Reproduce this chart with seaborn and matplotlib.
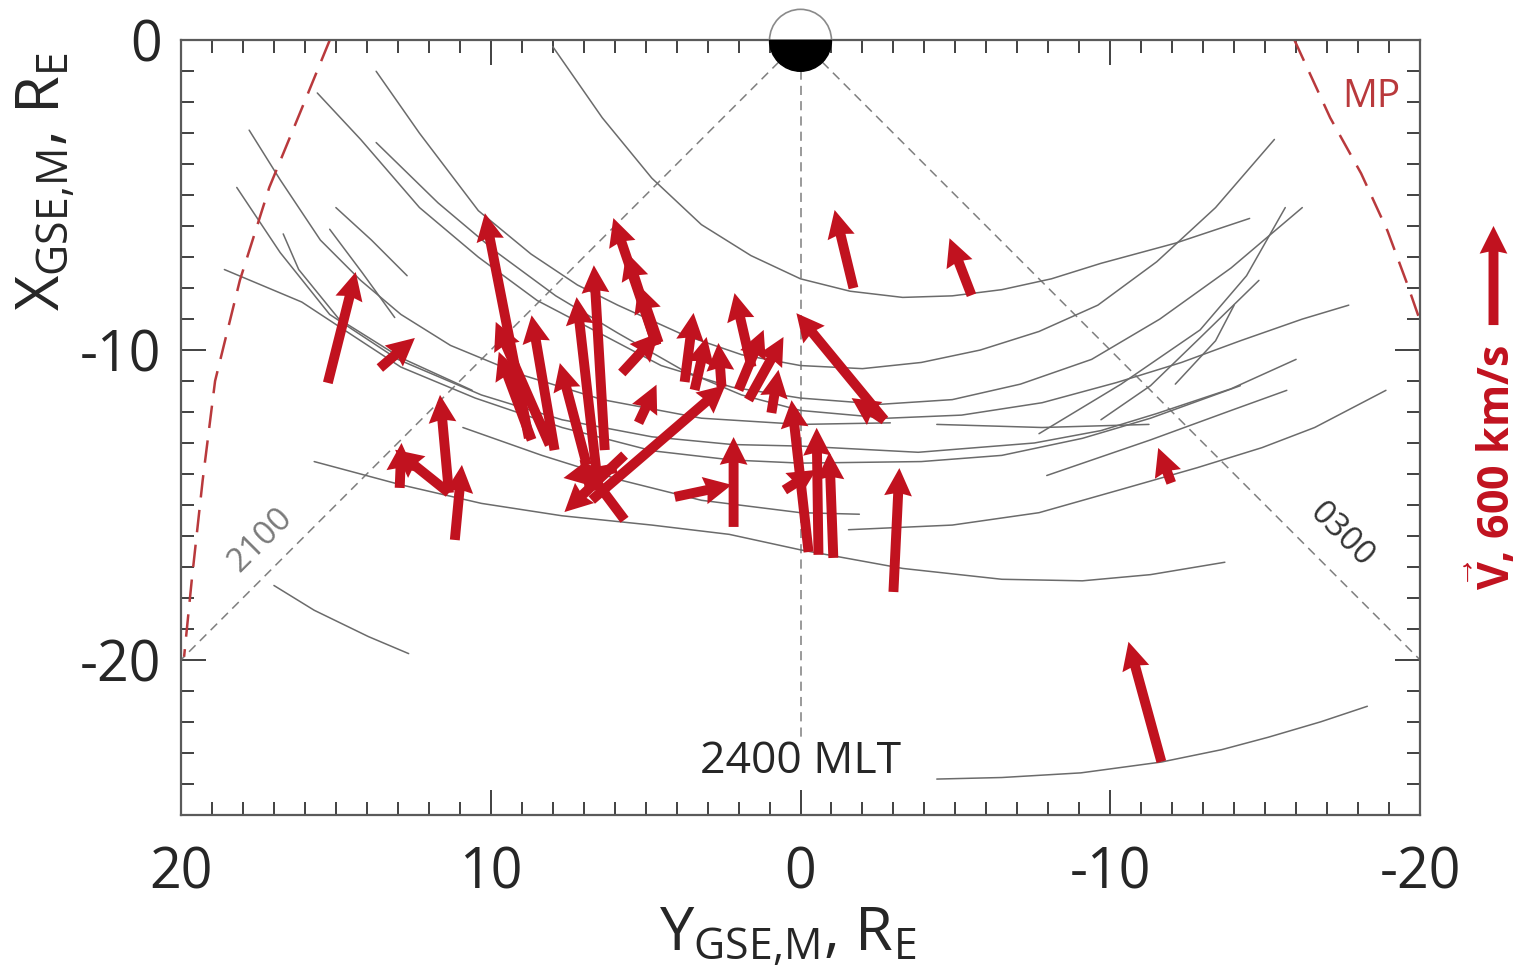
import numpy as np
import pandas as pd
import seaborn as sns
import matplotlib
matplotlib.use('Agg')
import matplotlib.pyplot as plt
from matplotlib.patches import Wedge
from matplotlib.ticker import MultipleLocator

# spacecraft orbit tracks, points as (Y_GSE, X_GSE) in R_E
trk_a = [(8.0, -0.2), (6.4, -2.5), (4.8, -4.45), (3.2, -5.95), (1.6, -6.95), (0.0, -7.7), (-1.6, -8.1),
         (-3.3, -8.3), (-4.9, -8.25), (-6.5, -8.05), (-8.1, -7.7), (-9.7, -7.2), (-12.1, -6.55), (-14.5, -5.75)]
trk_b = [(13.7, -1.0), (12.3, -3.0), (10.4, -5.5), (8.7, -6.9), (7.2, -7.9), (5.9, -8.55), (3.8, -9.5),
         (1.9, -10.15), (0.0, -10.5), (-2.0, -10.6), (-3.9, -10.4), (-5.8, -10.0), (-7.7, -9.4), (-9.6, -8.55),
         (-11.5, -7.15), (-13.4, -5.4), (-15.3, -3.2)]
trk_c = [(15.6, -1.7), (14.2, -3.2), (12.3, -5.4), (10.4, -7.0), (8.5, -8.4), (6.4, -9.5), (4.5, -10.5),
         (2.2, -11.2), (0.0, -11.55), (-2.6, -11.75), (-4.9, -11.6), (-7.1, -11.1), (-9.4, -10.3), (-11.6, -9.0),
         (-13.9, -7.35), (-16.2, -5.4)]
trk_d = [(13.7, -3.3), (11.7, -5.25), (9.8, -6.85), (7.9, -8.25), (5.9, -9.45), (3.8, -10.65), (1.9, -11.45),
         (0.0, -11.95), (-2.8, -12.2), (-5.2, -12.1), (-7.8, -11.7), (-10.2, -11.05), (-12.3, -10.4),
         (-14.2, -9.7), (-16.2, -9.0), (-17.7, -8.55)]
trk_e = [(17.8, -2.9), (16.8, -4.5), (15.5, -6.45), (14.2, -7.75), (12.9, -8.85), (11.3, -9.85), (9.0, -10.8),
         (6.4, -11.6), (3.2, -12.2), (0.0, -12.4), (-2.9, -12.35)]
trk_f = [(18.2, -4.75), (16.8, -6.85), (15.2, -8.85), (13.0, -10.3), (10.3, -11.45), (7.7, -12.25), (4.8, -12.8),
         (2.2, -13.05), (0.0, -13.1), (-3.8, -13.3), (-7.55, -13.0), (-9.7, -12.6), (-11.5, -12.05),
         (-13.9, -11.25), (-16.0, -10.3)]
trk_g = [(18.6, -7.4), (16.1, -8.45), (14.35, -9.6), (12.9, -10.55), (10.5, -11.55), (7.7, -12.5), (4.8, -13.25),
         (2.2, -13.55), (0.0, -13.65), (-3.9, -13.6), (-6.5, -13.4), (-9.1, -12.85), (-11.3, -12.2), (-14.2, -11.15)]
trk_h = [(10.9, -12.5), (8.35, -13.4), (5.8, -14.2), (3.2, -14.85), (0.0, -15.25), (-1.9, -15.3)]
trk_i = [(15.7, -13.6), (12.9, -14.35), (10.3, -14.95), (7.7, -15.35), (4.8, -15.65), (2.3, -15.95), (0.0, -16.45),
         (-3.3, -17.05), (-6.5, -17.4), (-9.1, -17.45), (-11.3, -17.25), (-13.7, -16.85)]
trk_j = [(-1.55, -15.8), (-4.9, -15.65), (-7.7, -15.25), (-10.35, -14.5), (-12.8, -13.8), (-14.9, -13.15),
         (-16.6, -12.5), (-18.9, -11.3)]
trk_k = [(-4.4, -12.4), (-7.8, -12.5), (-11.25, -12.4)]
trk_l = [(-7.7, -12.7), (-10.35, -11.1), (-12.9, -9.35), (-14.4, -7.6), (-15.65, -5.4)]
trk_m = [(-7.95, -14.05), (-11.3, -12.9), (-13.9, -11.95), (-15.7, -11.3)]
trk_n = [(-9.7, -12.25), (-11.3, -11.15), (-12.8, -9.7), (-14.8, -7.75)]
trk_o = [(-12.1, -11.1), (-13.4, -9.7), (-14.0, -8.55)]
trk_q = [(-4.4, -23.85), (-6.5, -23.8), (-9.05, -23.65), (-11.65, -23.3), (-13.6, -22.9), (-15.1, -22.5),
         (-16.8, -22.0), (-18.3, -21.5)]
trk_r = [(17.0, -17.6), (15.7, -18.4), (13.95, -19.25), (12.65, -19.8)]
trk_s1 = [(15.0, -5.4), (13.85, -6.45), (12.7, -7.6)]
trk_s2 = [(15.2, -6.1), (14.15, -7.5), (13.1, -8.95)]
trk_t = [(16.7, -6.25), (16.2, -7.4), (14.9, -9.0), (12.9, -10.25), (10.6, -11.3)]
tracks = [trk_a, trk_b, trk_c, trk_d, trk_e, trk_f, trk_g, trk_h, trk_i, trk_j, trk_k, trk_l,
          trk_m, trk_n, trk_o, trk_q, trk_r, trk_s1, trk_s2, trk_t]

# flow vectors: start point (R_E) and velocity (km/s)
arr_y0 = [15.26, 13.58, 12.94, 11.35, 11.35, 11.16, 8.77, 8.10, 8.68, 7.94, 6.90, 6.52, 6.32, 4.65, 4.65,
          4.58, 5.77, 5.23, 6.74, 5.68, 5.94, 5.68, 1.58, 3.74, 3.42, 2.55, 2.00, 1.68, -2.71, -2.71, 0.94,
          -0.26, -0.58, -1.06, 0.52, 2.16, 4.06, -1.71, -5.52, -11.97, -3.00, -11.65]
arr_x0 = [-11.06, -10.58, -14.45, -14.61, -14.61, -16.13, -12.84, -13.06, -12.90, -13.23, -13.71, -14.52,
          -13.23, -9.84, -9.84, -9.77, -10.74, -12.35, -14.84, -13.39, -13.81, -15.48, -10.55, -11.03, -11.29,
          -11.19, -11.29, -11.61, -12.26, -12.26, -12.03, -16.52, -16.61, -16.71, -14.52, -15.71, -14.74,
          -8.00, -8.23, -14.29, -17.81, -23.29]
arr_vy = [-169, -212, -11, 326, 54, -43, 266, 326, 199, 139, 163, 133, 66, 261, 182, 122, -223, -109, -810,
          364, 321, 272, 103, -54, -73, 19, -152, -212, 533, 199, -43, 103, 11, 24, -193, 0, -345, 114, 133,
          79, -36, 199]
arr_vx = [671, 182, 272, 261, 593, 454, 1361, 744, 533, 816, 617, 1168, 1119, 769, 563, 351, 242, 231, 696,
          -345, -60, 364, 448, 418, 321, 266, 364, 381, 647, 133, 261, 919, 769, 641, 122, 544, 73, 473, 345,
          212, 750, 726]
KMS_PER_RE = 187.5   # 600 km/s drawn as 3.2 R_E
V_KEY = 600

# magnetopause (dusk / dawn flanks)
mp_dusk_y = [15.2, 16.1, 17.15, 18.1, 18.9, 19.3, 19.65, 19.9]
mp_dusk_x = [0.0, -2.2, -4.75, -7.75, -11.0, -14.2, -17.4, -19.9]
mp_dawn_y = [-15.95, -17.1, -18.1, -18.95, -19.6, -20.0]
mp_dawn_x = [0.0, -2.5, -4.3, -6.15, -7.9, -9.05]

# MLT guide lines
mlt_y = [20.0, 0.0, -20.0]
mlt_x = [-20.0, -22.6, -20.0]

red = '#c1121f'
mp_red = '#b9393c'
grey = '#6b6b6b'

sns.set_style('ticks')
plt.rcParams['font.family'] = ['Open Sans', 'DejaVu Sans']
plt.rcParams['mathtext.fontset'] = 'custom'
plt.rcParams['mathtext.rm'] = 'Open Sans'
plt.rcParams['mathtext.it'] = 'Open Sans:italic'
plt.rcParams['mathtext.bf'] = 'Open Sans:bold'
plt.rcParams['axes.unicode_minus'] = False

fig = plt.figure(figsize=(15.13, 9.68), dpi=100)
ax = fig.add_axes([181 / 1513, 1 - 815 / 968, 1239 / 1513, 775 / 968])

rows = []
for i, trk in enumerate(tracks):
    for y, x in trk:
        rows.append((i, y, x))
track_df = pd.DataFrame(rows, columns=['track', 'Y', 'X'])
sns.lineplot(data=track_df, x='Y', y='X', units='track', estimator=None, sort=False,
             color=grey, lw=1.1, legend=False, ax=ax, zorder=2)

# MLT lines and magnetopause
for y_end, x_end in zip(mlt_y, mlt_x):
    ax.plot([0, y_end], [0, x_end], color='#7f7f7f', lw=1.1, ls=(0, (6, 4)), zorder=1)
ax.plot(mp_dusk_y, mp_dusk_x, color=mp_red, lw=1.8, ls=(0, (9, 5)), zorder=2)
ax.plot(mp_dawn_y, mp_dawn_x, color=mp_red, lw=1.8, ls=(0, (9, 5)), zorder=2)

Q = ax.quiver(arr_y0, arr_x0, arr_vy, arr_vx, angles='xy', scale_units='xy', scale=KMS_PER_RE,
              color=red, width=0.008, headwidth=2.8, headlength=2.8, headaxislength=2.6, zorder=4)

ax.set_xlim(20, -20)
ax.set_ylim(-25, 0)
ax.set_aspect('equal')

# Earth
ax.add_patch(Wedge((0, 0), 1.0, 0, 180, facecolor='white', edgecolor='#8a8a8a', lw=1.2,
                   clip_on=False, zorder=6))
ax.add_patch(Wedge((0, 0), 1.0, 180, 360, facecolor='black', edgecolor='black', lw=1.0,
                   clip_on=False, zorder=6))

ax.text(0, -23.3, '2400 MLT', ha='center', va='center', fontsize=32, zorder=5)
ax.text(17.45, -16.13, '2100', rotation=45, ha='center', va='center', fontsize=24, color='#7a7a7a')
ax.text(-17.45, -15.97, '0300', rotation=-45, ha='center', va='center', fontsize=24, color='#333333')
ax.text(-18.42, -1.84, 'MP', ha='center', va='center', fontsize=28, color=mp_red)

qk = ax.quiverkey(Q, 0.9868, 0.7154, V_KEY, r'$\vec{\mathbf{V}}$, 600 km/s', angle=90,
                  coordinates='figure', labelpos='S', labelsep=0.7, color=red, labelcolor=red,
                  fontproperties={'size': 31, 'weight': 'bold'})
qk.text.set_rotation(90)

ax.xaxis.set_major_locator(MultipleLocator(10))
ax.xaxis.set_minor_locator(MultipleLocator(1))
ax.yaxis.set_major_locator(MultipleLocator(10))
ax.yaxis.set_minor_locator(MultipleLocator(1))
ax.tick_params(which='both', direction='in', top=True, right=True, color='#333333', width=1.3)
ax.tick_params(which='major', length=18)
ax.tick_params(which='minor', length=9.5)
ax.tick_params(axis='x', which='major', pad=22, labelsize=40)
ax.tick_params(axis='y', which='major', pad=14, labelsize=40)
for sp in ax.spines.values():
    sp.set_color('#5a5a5a')
    sp.set_linewidth(1.6)

ax.set_xlabel(r'Y$_{\mathrm{GSE{,}M}}$, R$_{\mathrm{E}}$', fontsize=44)
ax.set_ylabel(r'X$_{\mathrm{GSE{,}M}}$, R$_{\mathrm{E}}$', fontsize=44)
ax.xaxis.set_label_coords(0.49, -0.118)
ax.yaxis.set_label_coords(-0.083, 0.817)

fig.savefig('out.png', dpi=100, facecolor='white')
